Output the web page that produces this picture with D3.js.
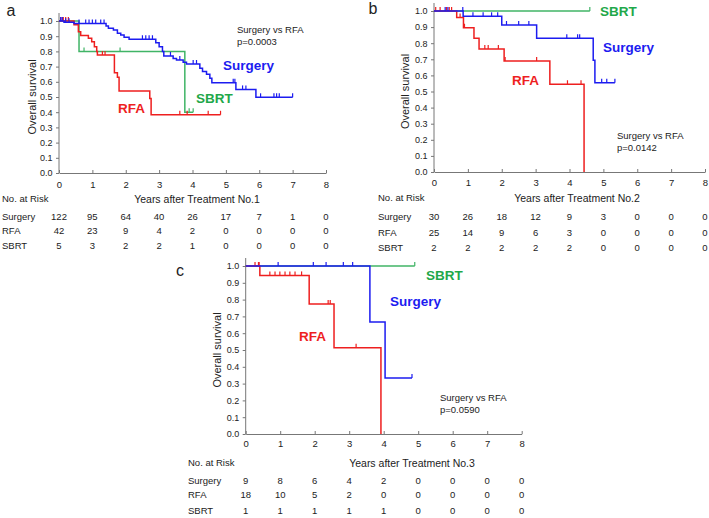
<!DOCTYPE html>
<html><head><meta charset="utf-8">
<script src="https://cdn.jsdelivr.net/npm/d3@7/dist/d3.min.js"></script>
<style>body{margin:0;background:#fff}svg{display:block}text{font-family:"Liberation Sans",Arial,sans-serif}</style>
</head><body>
<svg id="chart" width="709" height="518"></svg>
<script>
// ---------- data ----------
const years = [0,1,2,3,4,5,6,7,8];
const yTicks = [0,0.1,0.2,0.3,0.4,0.5,0.6,0.7,0.8,0.9,1.0];
const groups = ["Surgery","RFA","SBRT"];

// Panel a (Treatment No.1)
const aSurgTimes = [0.15,0.45,1.41,1.48,1.63,1.75,1.85,1.95,2.1,2.9,3.0,3.1,3.14,3.42,3.52,3.72,3.82,4.22,4.3,4.42,4.52,4.58,5.3,5.9];
const aSurgSurv  = [0.992,0.984,0.967,0.952,0.94,0.92,0.908,0.893,0.88,0.857,0.83,0.80,0.77,0.754,0.743,0.728,0.717,0.689,0.667,0.65,0.623,0.594,0.55,0.498];
const aSurgCens  = [0.05,0.1,0.2,0.3,0.6,0.8,0.9,1.0,1.1,1.25,1.35,2.5,2.6,2.7,2.8,3.34,3.62,4.02,4.12,5.22,5.27,5.5,5.6,6.04,6.44,6.52,6.6,7.0];
const aSurgEnd = 7.0;
const aRfaTimes = [0.45,0.58,0.65,0.88,0.98,1.06,1.13,1.15,1.66,1.75,1.8,2.72,2.76];
const aRfaSurv  = [0.976,0.93,0.905,0.886,0.864,0.83,0.80,0.776,0.66,0.63,0.54,0.49,0.383];
const aRfaCens  = [0.06,0.13,0.2,0.28,1.3,1.38,3.62,3.84,4.47,4.84];
const aRfaEnd = 4.84;
const aSbrtTimes = [0.6,3.77];
const aSbrtSurv  = [0.8,0.4];
const aSbrtCens  = [0.75,1.83,3.9,4.02];
const aSbrtEnd = 4.02;
const aRiskSurgery = [122,95,64,40,26,17,7,1,0];
const aRiskRFA     = [42,23,9,4,2,0,0,0,0];
const aRiskSBRT    = [5,3,2,2,1,0,0,0,0];

// Panel b (Treatment No.2)
const bSurgTimes = [0.86,2.0,3.03,4.70,4.75];
const bSurgSurv  = [0.967,0.913,0.83,0.694,0.555];
const bSurgCens  = [0.33,0.41,0.85,1.15,1.45,1.7,1.88,2.14,2.5,2.8,3.92,4.24,4.3,4.95,5.1,5.34];
const bSurgEnd = 5.34;
const bRfaTimes = [0.67,0.87,1.18,1.33,2.07,3.42,4.43];
const bRfaSurv  = [0.96,0.896,0.83,0.764,0.69,0.545,0];
const bRfaCens  = [0.05,0.18,0.37,0.45,0.52,0.77,0.9,1.5,1.6,1.9,2.1,3.03,3.94,4.34];
const bRfaEnd = 4.43;
const bSbrtTimes = [];
const bSbrtSurv  = [];
const bSbrtCens  = [4.6];
const bSbrtEnd = 4.6;
const bRiskSurgery = [30,26,18,12,9,3,0,0,0];
const bRiskRFA     = [25,14,9,6,3,0,0,0,0];
const bRiskSBRT    = [2,2,2,2,2,0,0,0,0];

// Panel c (Treatment No.3)
const cSurgTimes = [3.6,4.04];
const cSurgSurv  = [0.667,0.333];
const cSurgCens  = [0.94,1.96,2.33,2.83,3.1,4.82];
const cSurgEnd = 4.82;
const cRfaTimes = [0.41,1.84,2.56,3.92];
const cRfaSurv  = [0.944,0.774,0.514,0];
const cRfaCens  = [0.27,0.37,0.39,0.70,0.85,0.99,1.14,1.28,1.43,1.62,2.39,2.45,3.2];
const cRfaEnd = 3.92;
const cSbrtTimes = [];
const cSbrtSurv  = [];
const cSbrtCens  = [4.9];
const cSbrtEnd = 4.9;
const cRiskSurgery = [9,8,6,4,2,0,0,0,0];
const cRiskRFA     = [18,10,5,2,0,0,0,0,0];
const cRiskSBRT    = [1,1,1,1,1,0,0,0,0];

// ---------- styles ----------
const COL = {Surgery:"#1c1cf0", RFA:"#ee1f1f", SBRT:"#40b466"};
const LBL = {Surgery:"#1c1cf0", RFA:"#ee1f1f", SBRT:"#1fa84a"};
const TXT = "#222";

const svg = d3.select("#chart");

function panel(o){
  const g = svg.append("g");
  const x = d3.scaleLinear().domain([0,8]).range([o.x0,o.x1]);
  const y = d3.scaleLinear().domain([0,1]).range([o.yb,o.yt]);

  // axes
  const ya = g.append("g").attr("transform",`translate(${o.x0},0)`)
    .call(d3.axisLeft(y).tickValues(yTicks).tickFormat(d3.format(".1f")).tickSize(3).tickPadding(3.5));
  ya.select(".domain").remove();
  g.append("line").attr("x1",o.x0).attr("x2",o.x0).attr("y1",o.yb).attr("y2",o.yt-8).attr("stroke","#777");
  ya.selectAll("line").attr("stroke","#777");
  ya.selectAll("text").attr("font-size",9).attr("fill",TXT).style("font-family",'"Liberation Sans",Arial,sans-serif');

  const xa = g.append("g").attr("transform",`translate(0,${o.yb})`)
    .call(d3.axisBottom(x).tickValues(years).tickFormat(d3.format("d")).tickSizeInner(-3).tickSizeOuter(0).tickPadding(o.xpad));
  xa.select(".domain").attr("stroke","#777");
  xa.selectAll("line").attr("stroke","#777");
  xa.selectAll("text").attr("font-size",9.5).attr("fill",TXT).style("font-family",'"Liberation Sans",Arial,sans-serif');

  // curves
  const line = d3.line().x(d=>x(d[0])).y(d=>y(d[1])).curve(d3.curveStepAfter);
  o.series.forEach(s=>{
    const pts = [[0,1]];
    s.t.forEach((t,i)=>pts.push([t,s.s[i]]));
    const last = pts[pts.length-1][1];
    pts.push([s.end,last]);
    g.append("path").attr("d",line(pts)).attr("fill","none").attr("stroke",COL[s.name]).attr("stroke-width",1.5);
    const survAt = t=>{let v=1; s.t.forEach((tt,i)=>{ if(tt<=t) v=s.s[i]; }); return v;};
    g.selectAll(null).data(s.c).enter().append("line")
      .attr("x1",d=>x(d)).attr("x2",d=>x(d))
      .attr("y1",d=>y(survAt(d))).attr("y2",d=>y(survAt(d))-4)
      .attr("stroke",COL[s.name]).attr("stroke-width",1.2);
  });

  // group labels
  o.labels.forEach(l=>{
    g.append("text").attr("x",l.x).attr("y",l.y).attr("dy","0.35em")
      .attr("font-size",13.5).attr("font-weight","bold").attr("fill",LBL[l.name]).text(l.name);
  });
  // p value
  g.append("text").attr("x",o.px).attr("y",o.py).attr("dy","0.35em").attr("font-size",9.5).attr("fill",TXT).text("Surgery vs RFA");
  g.append("text").attr("x",o.px).attr("y",o.py+12).attr("dy","0.35em").attr("font-size",9.5).attr("fill",TXT).text(o.p);

  // y label
  g.append("text").attr("transform",`translate(${o.ylx},${(o.yt+o.yb)/2}) rotate(-90)`)
    .attr("text-anchor","middle").attr("dy","0.35em").attr("font-size",11).attr("fill",TXT).text("Overall survival");
  // panel letter
  g.append("text").attr("x",o.lx).attr("y",o.ly).attr("dy","0.35em").attr("text-anchor","middle").attr("font-size",16).attr("fill",TXT).text(o.letter);

  // risk table
  g.append("text").attr("x",o.rx).attr("y",o.rh).attr("dy","0.35em").attr("font-size",9.5).attr("fill",TXT).text("No. at Risk");
  g.append("text").attr("x",o.tx).attr("y",o.rh).attr("dy","0.35em").attr("text-anchor","middle").attr("font-size",10.5).attr("fill",TXT).text(o.title);
  o.risk.forEach((r,i)=>{
    g.append("text").attr("x",o.rx).attr("y",o.rows[i]).attr("dy","0.35em").attr("font-size",9.5).attr("fill",TXT).text(groups[i]);
    g.selectAll(null).data(r).enter().append("text")
      .attr("x",(d,j)=>x(years[j])).attr("y",o.rows[i]).attr("dy","0.35em")
      .attr("text-anchor","middle").attr("font-size",9.5).attr("fill",TXT).text(d=>d);
  });
}

panel({letter:"a", lx:11, ly:10, x0:59, x1:326, yt:21, yb:173, xpad:8.5, ylx:32,
  series:[
    {name:"SBRT", t:aSbrtTimes, s:aSbrtSurv, c:aSbrtCens, end:aSbrtEnd},
    {name:"RFA", t:aRfaTimes, s:aRfaSurv, c:aRfaCens, end:aRfaEnd},
    {name:"Surgery", t:aSurgTimes, s:aSurgSurv, c:aSurgCens, end:aSurgEnd}],
  labels:[{name:"Surgery",x:223,y:65},{name:"RFA",x:118,y:108},{name:"SBRT",x:196,y:98}],
  px:237, py:30, p:"p=0.0003",
  rx:2, rh:199, tx:197, title:"Years after Treatment No.1", rows:[217,231,246],
  risk:[aRiskSurgery,aRiskRFA,aRiskSBRT]});

panel({letter:"b", lx:373, ly:8, x0:434, x1:705, yt:11, yb:172, xpad:7.5, ylx:405,
  series:[
    {name:"SBRT", t:bSbrtTimes, s:bSbrtSurv, c:bSbrtCens, end:bSbrtEnd},
    {name:"RFA", t:bRfaTimes, s:bRfaSurv, c:bRfaCens, end:bRfaEnd},
    {name:"Surgery", t:bSurgTimes, s:bSurgSurv, c:bSurgCens, end:bSurgEnd}],
  labels:[{name:"Surgery",x:603,y:47},{name:"RFA",x:512,y:80},{name:"SBRT",x:600,y:11}],
  px:617, py:136, p:"p=0.0142",
  rx:378, rh:198, tx:577, title:"Years after Treatment No.2", rows:[217,233,248],
  risk:[bRiskSurgery,bRiskRFA,bRiskSBRT]});

panel({letter:"c", lx:180, ly:270, x0:245.7, x1:521.7, yt:266, yb:434, xpad:6.5, ylx:217,
  series:[
    {name:"SBRT", t:cSbrtTimes, s:cSbrtSurv, c:cSbrtCens, end:cSbrtEnd},
    {name:"RFA", t:cRfaTimes, s:cRfaSurv, c:cRfaCens, end:cRfaEnd},
    {name:"Surgery", t:cSurgTimes, s:cSurgSurv, c:cSurgCens, end:cSurgEnd}],
  labels:[{name:"Surgery",x:390,y:301},{name:"RFA",x:299,y:336},{name:"SBRT",x:426,y:275}],
  px:440, py:398, p:"p=0.0590",
  rx:188, rh:463, tx:412, title:"Years after Treatment No.3", rows:[481,495,511],
  risk:[cRiskSurgery,cRiskRFA,cRiskSBRT]});
</script>
</body></html>
